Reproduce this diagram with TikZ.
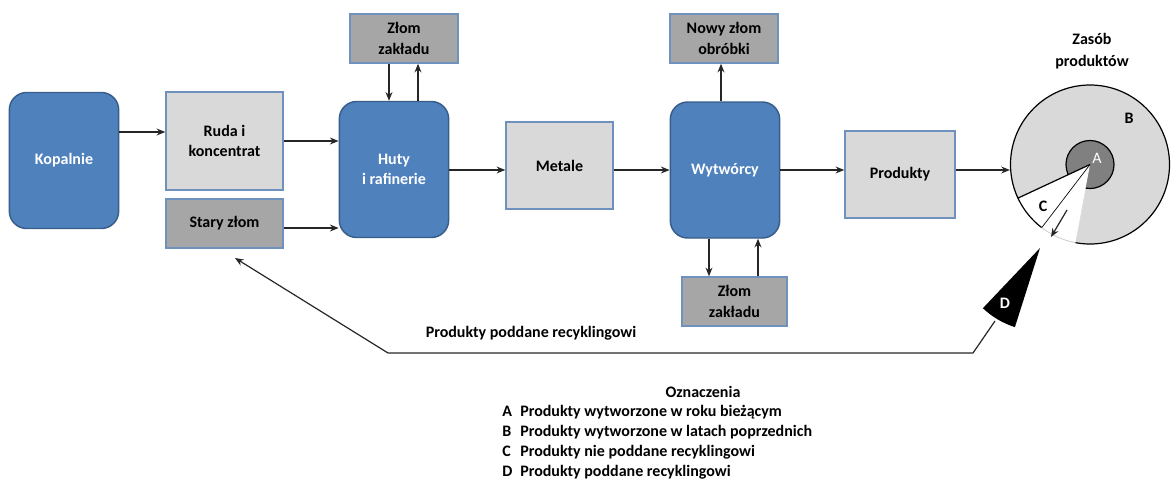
\documentclass[tikz,border=0pt]{standalone}
\usepackage{fontspec}
\setmainfont{Carlito}
\usepackage{tikz}
\usetikzlibrary{arrows.meta}
\usepackage{xcolor}

\definecolor{procblue}{RGB}{79,129,189}
\definecolor{procedge}{RGB}{56,93,138}
\definecolor{matfill}{RGB}{217,217,217}
\definecolor{matedge}{RGB}{110,145,190}
\definecolor{scrapfill}{RGB}{166,166,166}
\definecolor{stockA}{RGB}{128,128,128}

\begin{document}
\begin{tikzpicture}[x=0.75pt, y=-0.75pt, >={Stealth[length=6.5pt, width=5.2pt]},
  font=\fontsize{12}{15.5}\selectfont\bfseries,
  proc/.style={rounded corners=13pt, fill=procblue, draw=procedge, line width=1.1pt,
    text=white, align=center, minimum width=82pt, minimum height=102pt},
  mat/.style={fill=matfill, draw=matedge, line width=1.1pt, align=center},
  scrap/.style={fill=scrapfill, draw=matedge, line width=1.1pt, align=center,
    inner sep=1pt, minimum width=81pt, minimum height=36.75pt},
  flow/.style={->, draw=black!85, line width=0.9pt}]

\useasboundingbox (0,0) rectangle (1171,483);

% Mines, ore and old scrap
\node[proc] (kop) at (64,160.5) {Kopalnie};
\node[mat, minimum width=87.75pt, minimum height=73.5pt] (ruda) at (224.5,141) {Ruda i\\koncentrat};
\node[scrap, minimum width=87.75pt] (stary) at (224.5,223.5) {Stary złom};

% Smelters with their own scrap
\node[proc] (huty) at (394,169.5) {Huty\\i rafinerie};
\node[scrap] (zlomA) at (404,38.5) {Złom\\zakładu};

% Metals, fabricators, products
\node[mat, minimum width=80.25pt, minimum height=65.25pt] (metale) at (559.5,165.5) {Metale};
\node[proc] (wyt) at (725,170) {Wytwórcy};
\node[scrap] (nowy) at (724,38.5) {Nowy złom\\obróbki};
\node[scrap, minimum width=78.75pt] (zlomB) at (734.5,301.5) {Złom\\zakładu};
\node[mat, minimum width=82.5pt, minimum height=65.25pt] (prod) at (900,174.5) {Produkty};

% Stock of products (pie)
\node[circle, draw, fill=matfill, line width=0.9pt, minimum size=119.25pt] (zasob) at (1090,164.5) {};
\node[circle, draw, fill=stockA, line width=0.9pt, minimum size=36pt] (cA) at (zasob) {};
\fill[white] (zasob.center) -- ++(155:81) arc[start angle=155, end angle=100.6, radius=81] -- cycle;
\draw[line width=0.9pt] (zasob.center) -- ++(155:79.5) arc[start angle=155, end angle=127.4, radius=79.5];
\draw[line width=0.5pt] (zasob.center) -- ++(127.4:79.5);
\draw[black!20, line width=0.6pt] (zasob.center) ++(127.4:79.5) arc[start angle=127.4, end angle=100.6, radius=79.5];
\node[font=\fontsize{12}{14}\selectfont, text=white] (lA) at (1097,158) {A};
\node (lB) at (1129,118) {B};
\node (lC) at (1043,206) {C};
\node[align=center, font=\fontsize{12}{16.5}\selectfont\bfseries] (zasobT) at (1092,51) {Zasób\\produktów};
\coordinate (out1) at (1067,210);
\coordinate (out2) at (1051,237);
\draw[flow] (out1) -- (out2);

% Recycled part D
\coordinate (dtip) at (1040,248);
\fill[black] (dtip) -- ++(133.5:83) arc[start angle=133.5, end angle=107.6, radius=83] -- cycle;
\node[text=white] (lD) at (1005,303) {D};

% Main flow
\draw[flow] (kop.east |- 0,132) -- (ruda.west |- 0,132);
\draw[flow] (ruda.east) -- (ruda.east -| huty.west);
\draw[flow] (stary.east |- 0,228) -- (huty.west |- 0,228);
\foreach \a/\b in {huty/metale, metale/wyt, wyt/prod} {
    \draw[flow] (\a.east |- 0,170) -- (\b.west |- 0,170);
}
\draw[flow] (prod.east |- 0,170) -- (zasob.west |- 0,170);

% Scrap loops
\draw[flow] (zlomA.south -| 389,0) -- (huty.north -| 389,0);
\draw[flow] (huty.north -| 418,0) -- (zlomA.south -| 418,0);
\draw[flow] (wyt.north -| 721,0) -- (nowy.south -| 721,0);
\draw[flow] (wyt.south -| 709,0) -- (zlomB.north -| 709,0);
\draw[flow] (zlomB.north -| 758,0) -- (wyt.south -| 758,0);

% Recycling back to old scrap
\coordinate (dfoot) at (995,321);
\coordinate (r1) at (973,353);
\coordinate (r2) at (388,353);
\coordinate (rtip) at (235,258);
\draw[flow] (dfoot) -- (r1) -- (r2) -- (rtip);
\node (recyc) at (531,333) {Produkty poddane recyklingowi};

% Legend
\node (ozn) at (703,392) {Oznaczenia};
\foreach \k/\t [count=\n] in {A/Produkty wytworzone w roku bieżącym,
    B/Produkty wytworzone w latach poprzednich,
    C/Produkty nie poddane recyklingowi,
    D/Produkty poddane recyklingowi} {
    \node[anchor=west, inner sep=0pt] (leg\k) at (502,{392+\n*20}) {\makebox[13.5pt][l]{\k}\t};
}

\end{tikzpicture}
\end{document}
